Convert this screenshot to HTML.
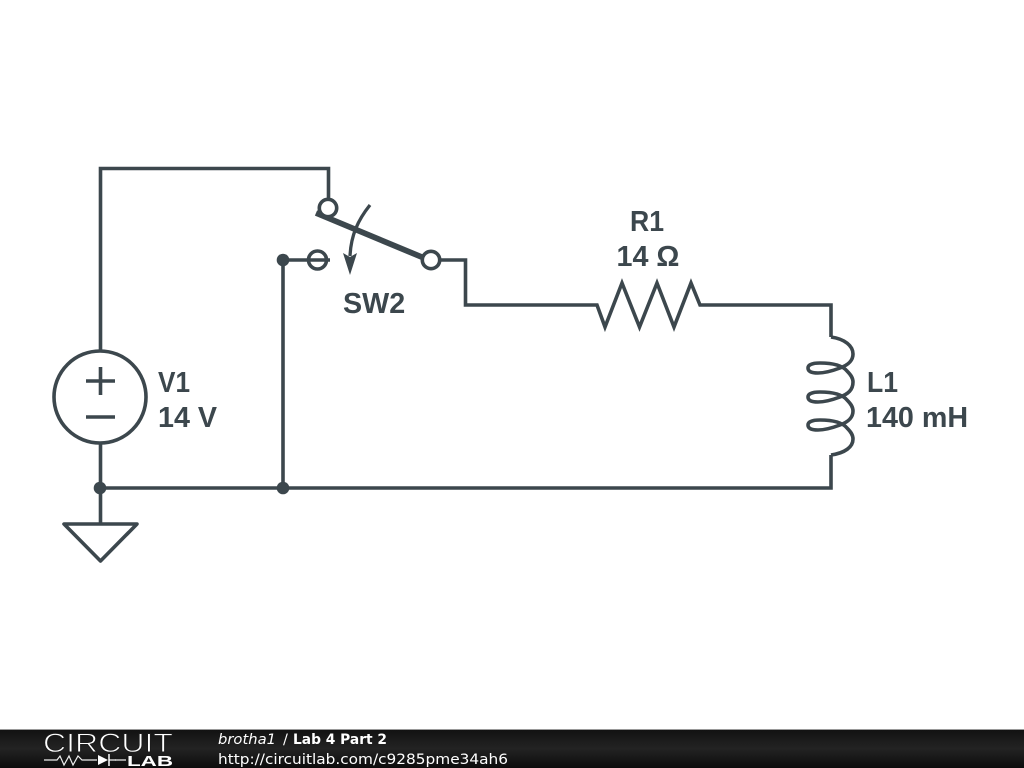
<!DOCTYPE html>
<html><head><meta charset="utf-8"><title>Lab 4 Part 2</title>
<style>html,body{margin:0;padding:0;background:#fff;width:1024px;height:768px;overflow:hidden}svg{display:block}</style>
</head><body>
<svg width="1024" height="768" viewBox="0 0 1024 768" xmlns="http://www.w3.org/2000/svg">
<defs><linearGradient id="g" x1="0" y1="0" x2="0" y2="1"><stop offset="0" stop-color="#111"/><stop offset=".5" stop-color="#232323"/><stop offset="1" stop-color="#0c0c0c"/></linearGradient></defs>
<rect width="1024" height="768" fill="#fff"/>
<g fill="none" stroke="#3c474d" stroke-width="3.600">
<path d="M100.500 351V168.500H328.500V200"/>
<path d="M283 488V260H330"/>
<circle cx="317.500" cy="260" r="9"/>
<path d="M440 260H465.500V305H597L605 327L622 283L639.500 327L657 283L674 327L691 283L700 305H831V337"/>
<path d="M831 337C845 339 853 346 853 354C853 361 848 365 840 368C832 371 825 373 818 373C811 373 808 371 808 368C808 365 812 363 820 363C832 363 842 365 847 371C851 375 853 378 853 382C853 390 848 394 840 397C832 400 825 402 818 402C811 402 808 400 808 397C808 394 812 392 820 392C832 392 842 394 847 400C851 404 853 407 853 411C853 418 848 422 840 425C832 428 825 430 818 430C811 430 808 428 808 425C808 422 812 420 820 420C832 420 842 422 847 428C851 432 853 435 853 439C853 447 845 453 831 455"/>
<path d="M831 455V488H100"/>
<path d="M100.500 443V524"/>
<circle cx="100" cy="397" r="46"/>
<path d="M86 381H115M100.500 367V395M86 417H115"/>
<path d="M64 524H137L100.500 561Z" stroke-linejoin="round"/>
<path d="M370 205C358 220 351 235 350 256" stroke-width="3.300"/>
</g>
<path d="M350 275L343 253L350 257L357 253Z" fill="#3c474d"/>
<path d="M316 213L424 258" stroke="#3c474d" stroke-width="5.800" fill="none"/>
<circle cx="328" cy="208" r="8.700" fill="#fff" stroke="#3c474d" stroke-width="3.600"/>
<circle cx="431" cy="260" r="8.700" fill="#fff" stroke="#3c474d" stroke-width="3.600"/>
<g fill="#3c474d"><circle cx="283" cy="260" r="6.300"/><circle cx="100" cy="488" r="6.300"/><circle cx="283" cy="488" r="6.300"/></g>
<g font-family="'Liberation Sans',sans-serif" font-weight="bold" font-size="28.700" fill="#3c474d">
<text x="158" y="392" textLength="32" lengthAdjust="spacingAndGlyphs">V1</text>
<text x="158" y="427">14 V</text>
<text x="630" y="231" textLength="34" lengthAdjust="spacingAndGlyphs">R1</text>
<text x="648" y="266" text-anchor="middle">14 Ω</text>
<text x="343" y="313">SW2</text>
<text x="867" y="392" textLength="31" lengthAdjust="spacingAndGlyphs">L1</text>
<text x="866" y="427">140 mH</text>
</g>
<rect y="729" width="1024" height="39" fill="url(#g)"/>
<rect y="729" width="1024" height="1" fill="#999"/>
<text x="43" y="752" font-family="'Liberation Sans',sans-serif" font-size="26.500" fill="#fff" stroke="#1c1c1c" stroke-width="0.900" textLength="130" lengthAdjust="spacingAndGlyphs">CIRCUIT</text>
<path d="M44 760H57L60 756L64 765L69 756L73 765L78 756L82 760H97M115 760H126" fill="none" stroke="#eee" stroke-width="1.200"/>
<path d="M98 755L108 760L98 765Z" fill="#fff"/><path d="M109 754V766" stroke="#fff" stroke-width="1.500"/>
<path d="M109 760H116" stroke="#fff" stroke-width="1.200"/>
<text x="127" y="766" font-family="'Liberation Sans',sans-serif" font-weight="bold" font-size="15" fill="#fff" textLength="46" lengthAdjust="spacingAndGlyphs">LAB</text>
<g font-family="'DejaVu Sans',sans-serif" font-size="14.500" fill="#fff">
<text x="218" y="744" font-style="italic" textLength="58" lengthAdjust="spacingAndGlyphs">brotha1</text>
<text x="283" y="744">/</text>
<text x="293" y="744" font-weight="bold" textLength="94" lengthAdjust="spacingAndGlyphs">Lab 4 Part 2</text>
<text x="218" y="764" textLength="290" lengthAdjust="spacingAndGlyphs">http://circuitlab.com/c9285pme34ah6</text>
</g>
</svg>
</body></html>
